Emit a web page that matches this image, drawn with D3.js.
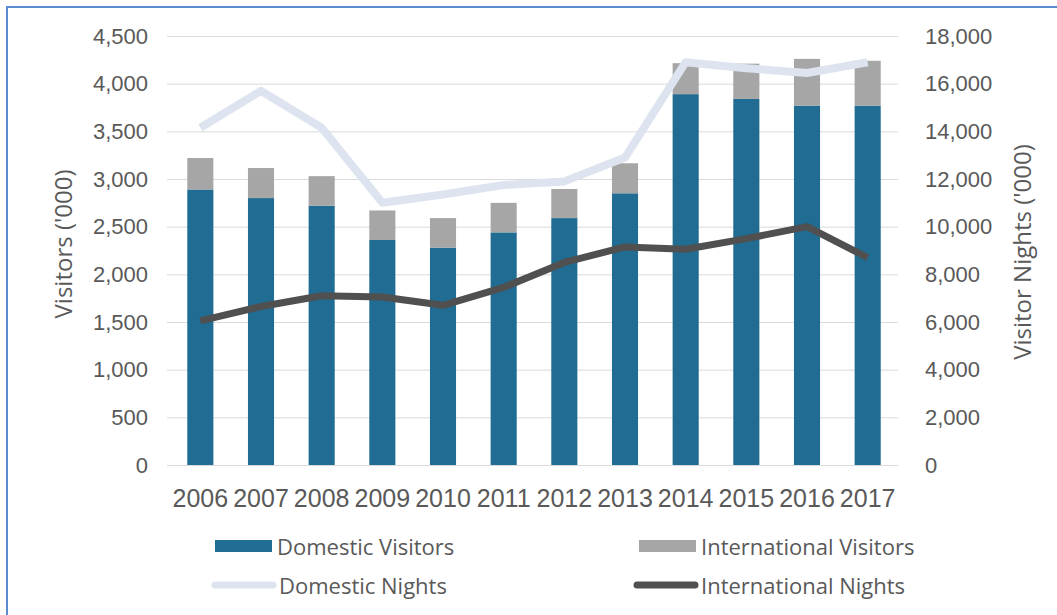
<!DOCTYPE html>
<html lang="en">
<head>
<meta charset="utf-8">
<title>Visitors and Visitor Nights</title>
<style>
  html, body { margin: 0; padding: 0; background: #fff; }
  svg { display: block; font-family: "Open Sans", sans-serif; }
  .tick text { fill: #595959; }
</style>
<script src="https://d3js.org/d3.v7.min.js"></script>
</head>
<body>
<svg id="chart" width="1057" height="615"></svg>
<script>
const years = ["2006", "2007", "2008", "2009", "2010", "2011", "2012", "2013", "2014", "2015", "2016", "2017"];
const domesticVisitors = [2890, 2800, 2720, 2360, 2280, 2440, 2590, 2850, 3890, 3840, 3770, 3770];
const internationalVisitors = [330, 315, 310, 310, 310, 310, 305, 315, 325, 370, 490, 470];
const domesticNights = [14150, 15700, 14150, 11000, 11350, 11750, 11900, 12900, 16900, 16650, 16450, 16900];
const internationalNights = [6050, 6650, 7100, 7050, 6700, 7450, 8500, 9150, 9050, 9500, 10000, 8700];
const leftTicks = [0, 500, 1000, 1500, 2000, 2500, 3000, 3500, 4000, 4500];
const rightTicks = [0, 2000, 4000, 6000, 8000, 10000, 12000, 14000, 16000, 18000];

const colors = {
  domVis: "#206c92",
  intVis: "#a6a6a6",
  domNights: "#dde4ef",
  intNights: "#505050"
};

const svg = d3.select("#chart");
const fmt = d3.format(",");

const x = d3.scaleBand()
  .domain(years)
  .range([170, 898])
  .paddingInner(0.57)
  .paddingOuter(0.285);
const yL = d3.scaleLinear().domain([0, 4500]).range([465, 36]);
const yR = d3.scaleLinear().domain([0, 18000]).range([465, 36]);

// frame (only top and left edges show in the picture)
svg.append("path")
  .attr("d", "M7,615 V7 H1057")
  .attr("fill", "none")
  .attr("stroke", "#5a8ad0")
  .attr("stroke-width", 2);

// gridlines
svg.append("g")
  .selectAll("line")
  .data(leftTicks)
  .join("line")
  .attr("x1", 167).attr("x2", 898)
  .attr("y1", d => yL(d) + 0.5).attr("y2", d => yL(d) + 0.5)
  .attr("stroke", "#dadada")
  .attr("stroke-width", 1);

// axes
const leftAxis = svg.append("g")
  .attr("transform", "translate(148,0)")
  .call(d3.axisLeft(yL).tickValues(leftTicks).tickFormat(fmt).tickSize(0).tickPadding(0));
leftAxis.select(".domain").remove();
leftAxis.selectAll("text").style("font-size", "22px");

const rightAxis = svg.append("g")
  .attr("transform", "translate(925,0)")
  .call(d3.axisRight(yR).tickValues(rightTicks).tickFormat(fmt).tickSize(0).tickPadding(0));
rightAxis.select(".domain").remove();
rightAxis.selectAll("text").style("font-size", "22px");

const bottomAxis = svg.append("g")
  .attr("transform", "translate(0,484)")
  .call(d3.axisBottom(x).tickSize(0).tickPadding(0));
bottomAxis.select(".domain").remove();
bottomAxis.selectAll("text").style("font-size", "25px").attr("dy", "0.9em");

// axis titles
svg.append("text")
  .attr("transform", "translate(62,244) rotate(-90)")
  .attr("text-anchor", "middle")
  .attr("dominant-baseline", "central")
  .attr("fill", "#595959")
  .style("font-size", "24px")
  .text("Visitors ('000)");

svg.append("text")
  .attr("transform", "translate(1021,252) rotate(-90)")
  .attr("text-anchor", "middle")
  .attr("dominant-baseline", "central")
  .attr("fill", "#595959")
  .style("font-size", "24px")
  .text("Visitor Nights ('000)");

// stacked bars
const stackData = years.map((yr, i) => ({ year: yr, dom: domesticVisitors[i], intl: internationalVisitors[i] }));

svg.append("g")
  .selectAll("rect")
  .data(stackData)
  .join("rect")
  .attr("x", d => x(d.year))
  .attr("width", x.bandwidth())
  .attr("y", d => yL(d.dom))
  .attr("height", d => yL(0) - yL(d.dom))
  .attr("fill", colors.domVis);

svg.append("g")
  .selectAll("rect")
  .data(stackData)
  .join("rect")
  .attr("x", d => x(d.year))
  .attr("width", x.bandwidth())
  .attr("y", d => yL(d.dom + d.intl))
  .attr("height", d => yL(d.dom) - yL(d.dom + d.intl))
  .attr("fill", colors.intVis);

// lines on the right axis
const line = d3.line()
  .x((d, i) => x(years[i]) + x.bandwidth() / 2)
  .y(d => yR(d));

svg.append("path")
  .datum(domesticNights)
  .attr("d", line)
  .attr("fill", "none")
  .attr("stroke", colors.domNights)
  .attr("stroke-width", 8)
  .attr("stroke-linejoin", "round");

svg.append("path")
  .datum(internationalNights)
  .attr("d", line)
  .attr("fill", "none")
  .attr("stroke", colors.intNights)
  .attr("stroke-width", 7)
  .attr("stroke-linejoin", "round");

// legend
const legendItems = [
  { label: "Domestic Visitors", kind: "rect", color: colors.domVis, x: 215, y: 546 },
  { label: "International Visitors", kind: "rect", color: colors.intVis, x: 639, y: 546 },
  { label: "Domestic Nights", kind: "line", color: colors.domNights, x: 215, y: 585 },
  { label: "International Nights", kind: "line", color: colors.intNights, x: 637, y: 585 }
];

const legend = svg.append("g")
  .selectAll("g")
  .data(legendItems)
  .join("g")
  .attr("transform", d => `translate(${d.x},${d.y})`);

legend.filter(d => d.kind === "rect")
  .append("rect")
  .attr("x", 0).attr("y", -6)
  .attr("width", 57).attr("height", 12)
  .attr("fill", d => d.color);

legend.filter(d => d.kind === "line")
  .append("line")
  .attr("x1", 0).attr("x2", 58)
  .attr("y1", 0).attr("y2", 0)
  .attr("stroke", d => d.color)
  .attr("stroke-width", 7)
  .attr("stroke-linecap", "round");

legend.append("text")
  .attr("x", d => d.kind === "rect" ? 62 : 64)
  .attr("y", 0)
  .attr("dominant-baseline", "central")
  .attr("fill", "#595959")
  .style("font-size", "22px")
  .text(d => d.label);
</script>
</body>
</html>
